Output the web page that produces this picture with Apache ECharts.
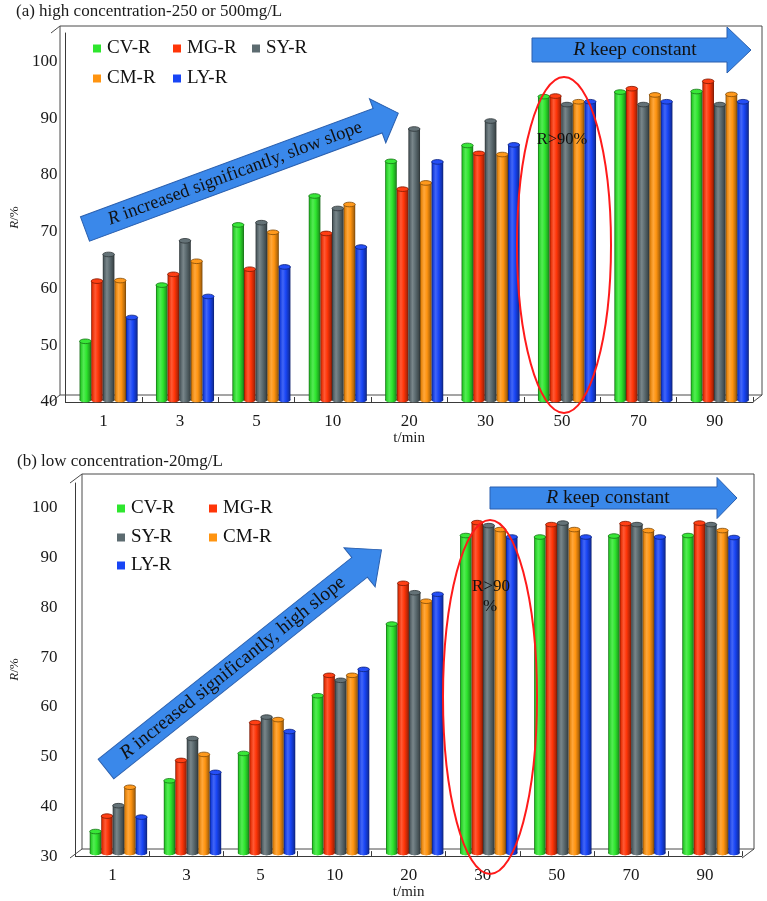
<!DOCTYPE html>
<html>
<head>
<meta charset="utf-8">
<script src="https://cdn.jsdelivr.net/npm/echarts@6/dist/echarts.min.js"></script>
<style>html,body{margin:0;padding:0;background:#fff}#c{width:767px;height:901px}</style>
</head>
<body>
<div id="c"></div>
<script>
// ---- data ----
const times = ['1','3','5','10','20','30','50','70','90'];
const seriesNames = ['CV-R','MG-R','SY-R','CM-R','LY-R'];
// (a) high concentration
const cvA = [51.1, 61.0, 71.6, 76.7, 82.8, 85.6, 94.2, 95.0, 95.1];
const mgA = [61.7, 62.9, 63.8, 70.1, 77.9, 84.2, 94.3, 95.6, 96.9];
const syA = [66.4, 68.8, 72.0, 74.5, 88.5, 89.9, 92.8, 92.8, 92.8];
const cmA = [61.8, 65.2, 70.3, 75.2, 79.0, 84.0, 93.3, 94.5, 94.6];
const lyA = [55.3, 59.0, 64.2, 67.7, 82.7, 85.7, 93.3, 93.3, 93.3];
// (b) low concentration
const cvB = [35.4, 45.6, 51.1, 62.7, 77.1, 94.9, 94.6, 94.8, 94.9];
const mgB = [38.5, 49.7, 57.3, 66.8, 85.3, 97.5, 97.1, 97.3, 97.4];
const syB = [40.6, 54.1, 58.4, 65.8, 83.4, 96.9, 97.4, 97.1, 97.1];
const cmB = [44.3, 50.9, 57.9, 66.8, 81.7, 96.1, 96.1, 95.9, 95.9];
const lyB = [38.3, 47.3, 55.5, 68.0, 83.1, 94.6, 94.6, 94.6, 94.5];
const yTicksA = {min: 40, max: 105, interval: 10};
const yTicksB = {min: 30, max: 105, interval: 10};

const colors = ['#2ee62e', '#ff3508', '#5c6b70', '#ff9410', '#1845f5'];
const FONT = "'Liberation Serif','Times New Roman',serif";

function mix(hex, t) {
  const n = parseInt(hex.slice(1), 16);
  let r = (n >> 16) & 255, g = (n >> 8) & 255, b = n & 255;
  const f = v => t < 0 ? Math.round(v * (1 + t)) : Math.round(v + (255 - v) * t);
  r = f(r); g = f(g); b = f(b);
  return '#' + ((1 << 24) + (r << 16) + (g << 8) + b).toString(16).slice(1);
}
function grad(c) {
  return new echarts.graphic.LinearGradient(0, 0, 1, 0, [
    {offset: 0, color: mix(c, -0.55)},
    {offset: 0.12, color: mix(c, -0.1)},
    {offset: 0.35, color: mix(c, 0.18)},
    {offset: 0.6, color: c},
    {offset: 0.88, color: mix(c, -0.3)},
    {offset: 1, color: mix(c, -0.55)}
  ]);
}

const cfgA = {min: 40, frac: 0.152, dx: 5, lift: 2};
const cfgB = {min: 30, frac: 0.155, dx: 6, lift: 3};

function makeRender(k, cfg) {
  const c = colors[k];
  return function (params, api) {
    const ci = api.value(0), v = api.value(1);
    const top = api.coord([ci, v]);
    const bot = api.coord([ci, cfg.min]);
    const band = api.size([1, 0])[0];
    const w = band * cfg.frac;
    const x0 = top[0] - 2.5 * w + cfg.dx + k * w;
    const ry = Math.max(2, w * 0.2);
    const yb = bot[1] - cfg.lift;
    const yt = top[1] + ry;
    return {
      type: 'group',
      children: [
        {type: 'ellipse', shape: {cx: x0 + w / 2, cy: yb, rx: w / 2, ry: ry}, style: {fill: grad(c)}},
        {type: 'rect', shape: {x: x0, y: yt, width: w, height: yb - yt}, style: {fill: grad(c)}},
        {type: 'ellipse', shape: {cx: x0 + w / 2, cy: yt, rx: w / 2, ry: ry},
          style: {fill: mix(c, 0.05), stroke: mix(c, -0.5), lineWidth: 0.8}}
      ]
    };
  };
}

const dataA = [cvA, mgA, syA, cmA, lyA];
const dataB = [cvB, mgB, syB, cmB, lyB];
const series = [];
seriesNames.forEach((nm, k) => {
  series.push({
    type: 'custom', name: nm, xAxisIndex: 0, yAxisIndex: 0,
    itemStyle: {color: colors[k]},
    renderItem: makeRender(k, cfgA),
    encode: {x: 0, y: 1},
    data: dataA[k].map((v, i) => [i, v]), z: 3
  });
  series.push({
    type: 'custom', name: nm, xAxisIndex: 1, yAxisIndex: 1,
    itemStyle: {color: colors[k]},
    renderItem: makeRender(k, cfgB),
    encode: {x: 0, y: 1},
    data: dataB[k].map((v, i) => [i, v]), z: 3
  });
});

// ---- layout ----
const G = [
  {left: 51, top: 33, width: 702, height: 369, dx: 9, dy: -7},
  {left: 70, top: 483, width: 672, height: 375, dx: 12, dy: -9}
];

function boxLines(g) {
  const L = g.left, R = g.left + g.width, T = g.top, B = g.top + g.height;
  const st = {stroke: '#4a4a4a', lineWidth: 1, fill: null};
  const bl = L + g.dx, br = R + g.dx, bt = T + g.dy, bb = B + g.dy;
  return [
    {type: 'polyline', z: 1, shape: {points: [[bl, bb], [bl, bt], [br, bt], [br, bb], [bl, bb]]}, style: st},
    {type: 'line', z: 1, shape: {x1: L, y1: T, x2: bl, y2: bt}, style: st},
    {type: 'line', z: 1, shape: {x1: L, y1: B, x2: bl, y2: bb}, style: st},
    {type: 'line', z: 1, shape: {x1: R, y1: B, x2: br, y2: bb}, style: st}
  ];
}

function arrow(x, y, len, bodyH, headH, headLen, angleDeg, text, fontSize, textX) {
  const bl = len - headLen;
  return {
    type: 'group', x: x, y: y, rotation: angleDeg * Math.PI / 180, z: 20,
    children: [
      {type: 'polygon', z: 20, shape: {points: [[0, -bodyH / 2], [bl, -bodyH / 2], [bl, -headH / 2], [len, 0], [bl, headH / 2], [bl, bodyH / 2], [0, bodyH / 2]]},
        style: {fill: '#3a88ea', stroke: '#2a5fae', lineWidth: 1}},
      {type: 'text', z: 21, x: textX, y: 0,
        style: {text: text, align: 'center', verticalAlign: 'middle', fontSize: fontSize, fontFamily: FONT, fill: '#111',
          rich: {i: {fontStyle: 'italic', fontSize: fontSize, fontFamily: FONT, fill: '#111'}, n: {fontSize: fontSize, fontFamily: FONT, fill: '#111'}}}}
    ]
  };
}

const graphics = [].concat(
  boxLines(G[0]), boxLines(G[1]),
  [
    {type: 'text', left: 16, top: 3, style: {text: '(a) high concentration-250 or 500mg/L', fontSize: 17, fontFamily: FONT, fill: '#1a1a1a'}},
    {type: 'text', left: 17, top: 453, style: {text: '(b) low concentration-20mg/L', fontSize: 17, fontFamily: FONT, fill: '#1a1a1a'}},
    arrow(85, 229, 334, 26, 47, 22, 20.3, '{i|R}{n| increased significantly, slow slope}', 18.5, 160),
    arrow(532, 50, 219, 24, 46, 24, 0, '{i|R}{n| keep constant}', 19.5, 103),
    arrow(106, 769, 352, 25, 50, 28, 38.5, '{i|R}{n| increased significantly, high slope}', 19.5, 162),
    arrow(490, 498, 247, 22, 41, 20, 0, '{i|R}{n| keep constant}', 19.5, 118),
    {type: 'ellipse', z: 25, shape: {cx: 564, cy: 245, rx: 47, ry: 168}, style: {fill: null, stroke: '#ff1a1a', lineWidth: 2}},
    {type: 'ellipse', z: 25, shape: {cx: 490, cy: 697, rx: 47, ry: 177}, style: {fill: null, stroke: '#ff1a1a', lineWidth: 2}},
    {type: 'text', z: 26, x: 562, y: 140, style: {text: 'R>90%', align: 'center', verticalAlign: 'middle', fontSize: 16.5, fontFamily: FONT, fill: '#111'}},
    {type: 'text', z: 26, x: 491, y: 587, style: {text: 'R>90', align: 'center', verticalAlign: 'middle', fontSize: 17, fontFamily: FONT, fill: '#111'}},
    {type: 'text', z: 26, x: 490, y: 607, style: {text: '%', align: 'center', verticalAlign: 'middle', fontSize: 17, fontFamily: FONT, fill: '#111'}}
  ]
);

function legendAt(name, left, cy) {
  return {
    data: [name], left: left, top: cy - 9, padding: 0, itemWidth: 8, itemHeight: 8, icon: 'rect',
    selectedMode: false, itemGap: 0,
    textStyle: {fontSize: 19, fontFamily: FONT, color: '#111', lineHeight: 18, padding: [0, 0, 0, 1]}
  };
}
const legends = [
  legendAt('CV-R', 93, 48), legendAt('MG-R', 173, 48), legendAt('SY-R', 252, 48),
  legendAt('CM-R', 93, 78), legendAt('LY-R', 173, 78),
  legendAt('CV-R', 117, 508), legendAt('MG-R', 209, 508),
  legendAt('SY-R', 117, 537), legendAt('CM-R', 209, 537),
  legendAt('LY-R', 117, 565)
];

function xAxisFor(gi, gap) {
  return {
    gridIndex: gi, type: 'category', data: times,
    name: 't/min', nameLocation: 'middle', nameGap: gap,
    nameTextStyle: {fontSize: 15, fontFamily: FONT, color: '#1a1a1a'},
    axisLine: {lineStyle: {color: '#3a3a3a', width: 1}},
    axisTick: {show: true, inside: true, length: 5, lineStyle: {color: '#3a3a3a'}},
    axisLabel: {fontSize: 17, fontFamily: FONT, color: '#1a1a1a', margin: 11},
    splitLine: {show: false}
  };
}
function yAxisFor(gi, t, gap, margin) {
  return {
    gridIndex: gi, type: 'value', min: t.min, max: t.max, interval: t.interval,
    name: '{i|R}/%', nameLocation: 'middle', nameGap: gap, nameRotate: 90,
    nameTextStyle: {fontSize: 13, fontFamily: FONT, color: '#1a1a1a', rich: {i: {fontStyle: 'italic', fontSize: 13, fontFamily: FONT, color: '#1a1a1a'}}},
    axisLine: {show: true, lineStyle: {color: '#3a3a3a', width: 1}},
    axisTick: {show: false},
    axisLabel: {fontSize: 17, fontFamily: FONT, color: '#1a1a1a', margin: margin,
      formatter: v => (v > 100 ? '' : String(v))},
    splitLine: {show: false}
  };
}

const option = {
  animation: false,
  backgroundColor: '#fff',
  grid: G.map(g => ({left: g.left, top: g.top, width: g.width, height: g.height, containLabel: false})),
  xAxis: [xAxisFor(0, 29), xAxisFor(1, 27)],
  yAxis: [yAxisFor(0, yTicksA, 36, 8), yAxisFor(1, yTicksB, 48, 18)],
  legend: legends,
  graphic: graphics,
  series: series
};
const chart = echarts.init(document.getElementById('c'), null, {renderer: 'canvas'});
chart.setOption(option);
</script>
</body>
</html>
